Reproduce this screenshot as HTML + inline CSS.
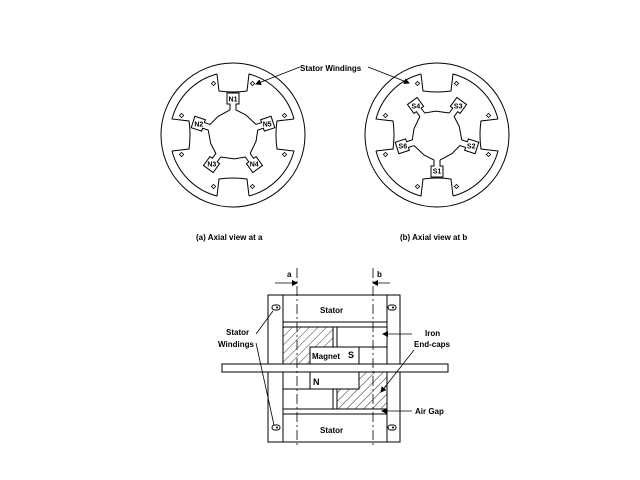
<!DOCTYPE html>
<html><head><meta charset="utf-8"><style>
html,body{margin:0;padding:0;background:#fff;}
svg{display:block;}
text{font-family:"Liberation Sans",sans-serif;font-weight:bold;font-size:8px;fill:#000;}
.pl{font-size:7px;}
</style></head><body>
<svg width="640" height="480" viewBox="0 0 640 480" xmlns="http://www.w3.org/2000/svg">
<defs>
<pattern id="h" patternUnits="userSpaceOnUse" width="6" height="6" patternTransform="rotate(45)">
<line x1="0" y1="0" x2="0" y2="6" stroke="#000" stroke-width="0.8"/>
</pattern>
<marker id="ar" markerWidth="6" markerHeight="6" refX="5" refY="3" orient="auto" markerUnits="userSpaceOnUse">
<path d="M0,0 L6,3 L0,6 z" fill="#000"/>
</marker>
<g id="tooth">
<path d="M -16,-61 L -14,-44 Q 0,-42 14,-44 L 16,-61 A 63 63 0 0 1 61,-16" fill="none" stroke="#000" stroke-width="1"/>
<rect x="-21" y="-53" width="3" height="3" transform="rotate(45 -19.5 -51.5)" fill="none" stroke="#000" stroke-width="0.8"/>
<rect x="18" y="-53" width="3" height="3" transform="rotate(45 19.5 -51.5)" fill="none" stroke="#000" stroke-width="0.8"/>
</g>
<path id="pole" d="M -3,-25 L -3,-31 L -6,-31 L -6,-42 L 6,-42 L 6,-31 L 3,-31 L 3,-25 L 13,-20 L 22.9,-10.6" fill="none" stroke="#000" stroke-width="1"/>
<g id="stator">
<circle cx="0" cy="0" r="72" fill="none" stroke="#000" stroke-width="1"/>
<use href="#tooth"/>
<use href="#tooth" transform="rotate(90)"/>
<use href="#tooth" transform="rotate(180)"/>
<use href="#tooth" transform="rotate(270)"/>
</g>
</defs>

<!-- left view -->
<g transform="translate(233,135)">
<use href="#stator"/>
<use href="#pole"/>
<use href="#pole" transform="rotate(72)"/>
<use href="#pole" transform="rotate(144)"/>
<use href="#pole" transform="rotate(216)"/>
<use href="#pole" transform="rotate(288)"/>
<text class="pl" x="0" y="-33.5" text-anchor="middle">N1</text>
<text class="pl" x="34.2" y="-8.6" text-anchor="middle">N5</text>
<text class="pl" x="21.2" y="31.5" text-anchor="middle">N4</text>
<text class="pl" x="-21.2" y="31.5" text-anchor="middle">N3</text>
<text class="pl" x="-34.2" y="-8.6" text-anchor="middle">N2</text>
</g>

<!-- right view -->
<g transform="translate(437,135)">
<use href="#stator"/>
<use href="#pole" transform="rotate(180)"/>
<use href="#pole" transform="rotate(108)"/>
<use href="#pole" transform="rotate(36)"/>
<use href="#pole" transform="rotate(324)"/>
<use href="#pole" transform="rotate(252)"/>
<text class="pl" x="0" y="38.5" text-anchor="middle">S1</text>
<text class="pl" x="34.2" y="13.6" text-anchor="middle">S2</text>
<text class="pl" x="21.2" y="-26.5" text-anchor="middle">S3</text>
<text class="pl" x="-21.2" y="-26.5" text-anchor="middle">S4</text>
<text class="pl" x="-34.2" y="13.6" text-anchor="middle">S6</text>
</g>

<text x="300" y="71">Stator Windings</text>
<line x1="300" y1="67" x2="256" y2="84" stroke="#000" stroke-width="0.8" marker-end="url(#ar)"/>
<line x1="368" y1="67" x2="409" y2="83" stroke="#000" stroke-width="0.8" marker-end="url(#ar)"/>

<text x="196" y="240">(a) Axial view at a</text>
<text x="400" y="240">(b) Axial view at b</text>

<!-- bottom diagram -->
<g stroke="#000" stroke-width="1" fill="none">
<rect x="268" y="295" width="132" height="147"/>
<line x1="283" y1="295" x2="283" y2="442"/>
<line x1="387" y1="295" x2="387" y2="442"/>
<line x1="283" y1="322" x2="387" y2="322"/>
<line x1="283" y1="327" x2="387" y2="327"/>
<line x1="283" y1="409" x2="387" y2="409"/>
<line x1="283" y1="414" x2="387" y2="414"/>
<path d="M283,327 L333,327 L333,347 L310,347 L310,364 L283,364 Z" fill="url(#h)"/>
<line x1="337" y1="327" x2="337" y2="347"/>
<line x1="337" y1="347" x2="387" y2="347"/>
<rect x="310" y="347" width="49" height="17" fill="#fff"/>
<path d="M359,372 L387,372 L387,409 L337,409 L337,389 L359,389 Z" fill="url(#h)"/>
<line x1="333" y1="389" x2="333" y2="409"/>
<line x1="283" y1="389" x2="310" y2="389"/>
<rect x="310" y="372" width="49" height="17" fill="#fff"/>
<rect x="222" y="364" width="226" height="8" fill="#fff"/>
<line x1="297" y1="268" x2="297" y2="448" stroke-dasharray="10,3,2,3" stroke-width="0.8"/>
<line x1="373" y1="268" x2="373" y2="448" stroke-dasharray="10,3,2,3" stroke-width="0.8"/>
<rect x="272" y="305" width="8" height="5" rx="2.5"/>
<rect x="388" y="305" width="8" height="5" rx="2.5"/>
<rect x="272" y="425" width="8" height="5" rx="2.5"/>
<rect x="388" y="425" width="8" height="5" rx="2.5"/>
</g>
<g fill="#000">
<circle cx="277" cy="307.5" r="1"/><circle cx="393" cy="307.5" r="1"/>
<circle cx="277" cy="427.5" r="1"/><circle cx="393" cy="427.5" r="1"/>
</g>
<g stroke="#000" stroke-width="0.8">
<line x1="275" y1="283" x2="297" y2="283" marker-end="url(#ar)"/>
<line x1="390" y1="283" x2="373" y2="283" marker-end="url(#ar)"/>
<line x1="256" y1="334" x2="273" y2="311"/>
<line x1="256" y1="343" x2="274" y2="425"/>
<line x1="412" y1="334" x2="383" y2="334" marker-end="url(#ar)"/>
<line x1="414" y1="350" x2="381" y2="392" marker-end="url(#ar)"/>
<line x1="412" y1="411" x2="382" y2="411" marker-end="url(#ar)"/>
</g>
<text x="287" y="277">a</text>
<text x="377" y="277">b</text>
<text x="320" y="313">Stator</text>
<text x="320" y="433">Stator</text>
<text x="312" y="359">Magnet</text>
<text x="348" y="358" style="font-size:9px">S</text>
<text x="313" y="385" style="font-size:9px">N</text>
<text x="226" y="335">Stator</text>
<text x="218" y="347">Windings</text>
<text x="425" y="336">Iron</text>
<text x="414" y="347">End-caps</text>
<text x="415" y="414">Air Gap</text>
</svg>
</body></html>
